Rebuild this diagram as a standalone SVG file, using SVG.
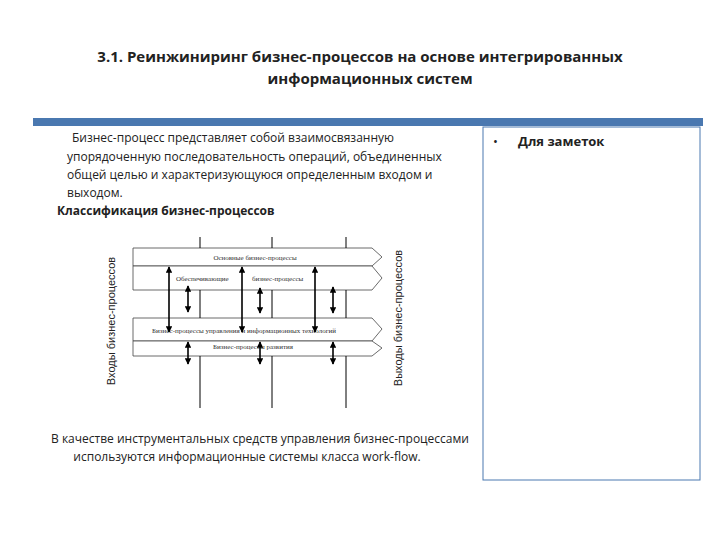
<svg xmlns="http://www.w3.org/2000/svg" width="720" height="540" viewBox="0 0 720 540">
<style>
.t{font-family:"Open Sans","Liberation Sans",sans-serif;fill:#222}
.s{font-family:"Liberation Serif",serif;font-size:7px;fill:#333}
.l{stroke:#000;stroke-width:1;fill:none}
.a{stroke:#000;stroke-width:1.6;marker-start:url(#ah);marker-end:url(#ah)}
.b{fill:#fff;stroke:#444;stroke-width:0.8}
</style>
<defs><marker id="ah" viewBox="0 0 10 10" refX="9" refY="5" markerWidth="4" markerHeight="4" orient="auto-start-reverse"><path d="M0,0L10,5L0,10z" fill="#000"/></marker></defs>
<rect width="720" height="540" fill="#fff"/>
<g id="title">
<text class="t" x="360" y="62" font-size="15" font-weight="bold" text-anchor="middle">3.1. Реинжиниринг бизнес-процессов на основе интегрированных</text>
<text class="t" x="370" y="84" font-size="15" font-weight="bold" text-anchor="middle">информационных систем</text>
</g>
<rect x="33" y="118" width="670" height="8" fill="#4a78b0"/>
<g id="notes">
<rect x="483" y="127" width="217" height="353" fill="#fff" stroke="#4a78b0" stroke-width="1"/>
<text class="t" x="493" y="146" font-size="13">•</text>
<text class="t" x="518" y="146" font-size="13" font-weight="bold">Для заметок</text>
</g>
<g id="text" font-size="12">
<text class="t" x="72" y="142">Бизнес-процесс представляет собой взаимосвязанную</text>
<text class="t" x="67" y="161">упорядоченную последовательность операций, объединенных</text>
<text class="t" x="67" y="179">общей целью и характеризующуюся определенным входом и</text>
<text class="t" x="67" y="197">выходом.</text>
<text class="t" x="57" y="215" font-weight="bold">Классификация бизнес-процессов</text>
<text class="t" x="260" y="443" text-anchor="middle">В качестве инструментальных средств управления бизнес-процессами</text>
<text class="t" x="247" y="461" text-anchor="middle">используются информационные системы класса work-flow.</text>
</g>
<g id="diagram">
<path class="b" d="M133,248H372L382,257L372,266H133z"/>
<path class="b" d="M133,266H372L382,278L372,290H133z"/>
<path class="b" d="M133,318H372L382,329L372,341H133z"/>
<path class="b" d="M133,341H372L382,348L372,356H133z"/>
<text class="s" x="255" y="260" text-anchor="middle">Основные бизнес-процессы</text>
<text class="s" x="176" y="281">Обеспечивающие</text>
<text class="s" x="252" y="281">бизнес-процессы</text>
<text class="s" x="244" y="333" text-anchor="middle">Бизнес-процессы управления и информационных технологий</text>
<text class="s" x="253" y="349" text-anchor="middle">Бизнес-процессы развития</text>
<text font-family="Liberation Sans Narrow,Liberation Sans,sans-serif" font-size="11" fill="#222" text-anchor="middle" transform="translate(115,321) rotate(-90)">Входы бизнес-процессов</text>
<text font-family="Liberation Sans Narrow,Liberation Sans,sans-serif" font-size="11" fill="#222" text-anchor="middle" transform="translate(402,318) rotate(-90)">Выходы бизнес-процессов</text>
</g>
<g id="connectors">
<path class="l" d="M200,237V248M272,237V248M346,237V248M200,290V318M272,290V318M346,290V318M200,356V408M272,356V408M346,356V408"/>
<line class="a" x1="169" y1="267" x2="169" y2="332"/>
<line class="a" x1="242" y1="267" x2="242" y2="332"/>
<line class="a" x1="315" y1="267" x2="315" y2="332"/>
<line class="a" x1="188" y1="286" x2="188" y2="312"/>
<line class="a" x1="260" y1="288" x2="260" y2="313"/>
<line class="a" x1="333" y1="287" x2="333" y2="313"/>
<line class="a" x1="188" y1="342" x2="188" y2="364"/>
<line class="a" x1="260" y1="342" x2="260" y2="364"/>
<line class="a" x1="333" y1="342" x2="333" y2="364"/>
</g>
</svg>
